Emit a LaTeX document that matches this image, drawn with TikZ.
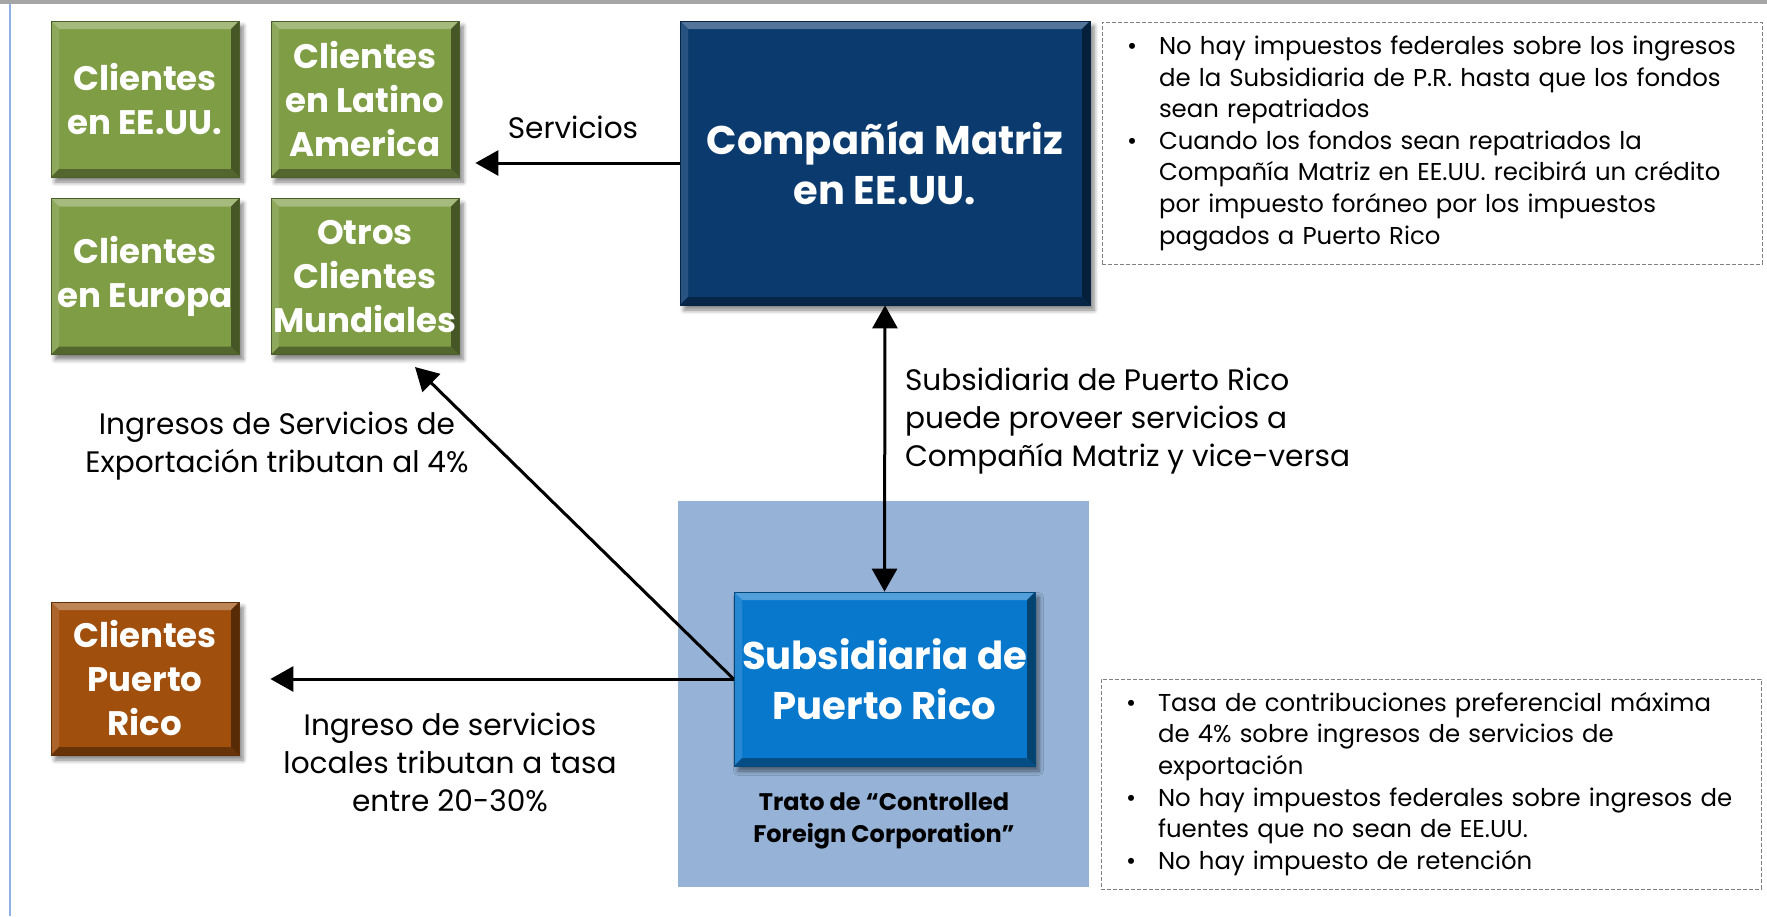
\documentclass[tikz,border=0pt]{standalone}
\usepackage{fontspec}
\setmainfont{Poppins}
\usepackage{tikz}
\usetikzlibrary{arrows.meta,shadows.blur}

\definecolor{verde}{HTML}{7F9D45}
\definecolor{azulosc}{HTML}{0B3A6E}
\definecolor{azulsub}{HTML}{0878CC}
\definecolor{azulfondo}{HTML}{96B3D7}
\definecolor{naranja}{HTML}{A14F0D}
\definecolor{gristop}{HTML}{A6A6A6}
\definecolor{azulborde}{HTML}{8EB0E3}

\tikzset{
  bisel/.style={path picture={
    \coordinate (nw) at (path picture bounding box.north west);
    \coordinate (ne) at (path picture bounding box.north east);
    \coordinate (sw) at (path picture bounding box.south west);
    \coordinate (se) at (path picture bounding box.south east);
    \fill [#1!70!white] (nw) -- (ne) -- ([shift={(-4pt,-4pt)}]ne) -- ([shift={(4pt,-4pt)}]nw) -- cycle;
    \fill [#1!88!white] (nw) -- (sw) -- ([shift={(4pt,4pt)}]sw) -- ([shift={(4pt,-4pt)}]nw) -- cycle;
    \fill [#1!55!black] (ne) -- (se) -- ([shift={(-4pt,4pt)}]se) -- ([shift={(-4pt,-4pt)}]ne) -- cycle;
    \fill [#1!65!black] (sw) -- (se) -- ([shift={(-4pt,4pt)}]se) -- ([shift={(4pt,4pt)}]sw) -- cycle;
  }},
  caja/.style={rectangle, fill=#1, draw=#1!60!black, line width=0.4pt, bisel=#1,
    blur shadow={shadow xshift=2pt, shadow yshift=-2.5pt, shadow blur steps=6, shadow opacity=50},
    text=white, align=center, inner sep=0pt, minimum width=94pt, minimum height=78pt,
    font=\bfseries\fontsize{17}{22}\selectfont},
  fondo/.style={rectangle, fill=azulfondo, minimum width=205.5pt, minimum height=193pt},
  nota/.style={rectangle, draw=gray, dash pattern=on 2pt off 1pt, line width=0.5pt,
    text width=305pt, inner xsep=12.5pt, align=left, font=\fontsize{12.2}{15.8}\selectfont},
  etiqueta/.style={align=center, font=\fontsize{14.8}{19}\selectfont},
  flecha/.style={line width=1.5pt, -{Triangle[length=11.5pt,width=12.5pt]}},
}

\begin{document}
\begin{tikzpicture}[x=0.5pt, y=-0.5pt]
\useasboundingbox (0,0) rectangle (1767,916);
\fill [gristop] (0,0) rectangle (1767,4);
\draw [azulborde, line width=1pt] (10,4) -- (10,916);
% fondo CFC
\node [fondo] (fondo) at (883.5,694) {};
% clientes
\node [caja=verde] (eeuu) at (145,99) {Clientes\\en EE.UU.};
\node [caja=verde] (latam) at (365,99) {Clientes\\en Latino\\America};
\node [caja=verde] (europa) at (145,276.5) {Clientes\\en Europa};
\node [caja=verde] (otros) at (365,276.5) {Otros\\Clientes\\Mundiales};
\node [caja=naranja, minimum height=76.5pt] (cpr) at (145,678.5) {Clientes\\Puerto\\Rico};
% companias
\node [caja=azulosc, minimum width=205pt, minimum height=142pt,
  font=\bfseries\fontsize{20}{25}\selectfont] (matriz) at (885,163) {Compañía Matriz\\en EE.UU.};
\node [caja=azulsub, minimum width=150.5pt, minimum height=87pt,
  font=\bfseries\fontsize{19.3}{25}\selectfont] (sub) at (884.5,679) {Subsidiaria de\\Puerto Rico};
\node [align=center, font=\bfseries\fontsize{12}{16}\selectfont] (trato) at (884,821)
  {Trato de “Controlled\\Foreign Corporation”};
% flechas
\draw [flecha, shorten >=8pt] (matriz.west) -- (matriz.west -| latam.east);
\draw [flecha, {Triangle[length=11.5pt,width=12.5pt]}-{Triangle[length=11.5pt,width=12.5pt]}]
  (matriz.south) -- (sub.north);
\coordinate (puntamun) at (415,367);
\draw [flecha] (sub.west) -- (puntamun);
\draw [flecha, shorten >=15.5pt] (sub.west) -- (sub.west -| cpr.east);
% etiquetas
\node [etiqueta] (servicios) at (573,127) {Servicios};
\node [etiqueta, align=left, anchor=west] (proveer) at (898,421)
  {Subsidiaria de Puerto Rico\\puede proveer servicios a\\Compañía Matriz y vice-versa};
\node [etiqueta] (export) at (277,446) {Ingresos de Servicios de\\Exportación tributan al 4\%};
\node [etiqueta] (locales) at (450,762) {Ingreso de servicios\\locales tributan a tasa\\entre 20-30\%};
% notas
\node [nota, minimum height=121pt] (notasup) at (1432,143) {%
\begin{tabular}{@{}p{16pt}@{}l@{}}
\textbullet & No hay impuestos federales sobre los ingresos\\
 & de la Subsidiaria de P.R. hasta que los fondos\\
 & sean repatriados\\
\textbullet & Cuando los fondos sean repatriados la\\
 & Compañía Matriz en EE.UU. recibirá un crédito\\
 & por impuesto foráneo por los impuestos\\
 & pagados a Puerto Rico
\end{tabular}};
\node [nota, minimum height=105pt] (notainf) at (1431,784) {%
\begin{tabular}{@{}p{16pt}@{}l@{}}
\textbullet & Tasa de contribuciones preferencial máxima\\
 & de 4\% sobre ingresos de servicios de\\
 & exportación\\
\textbullet & No hay impuestos federales sobre ingresos de\\
 & fuentes que no sean de EE.UU.\\
\textbullet & No hay impuesto de retención
\end{tabular}};
\end{tikzpicture}
\end{document}
